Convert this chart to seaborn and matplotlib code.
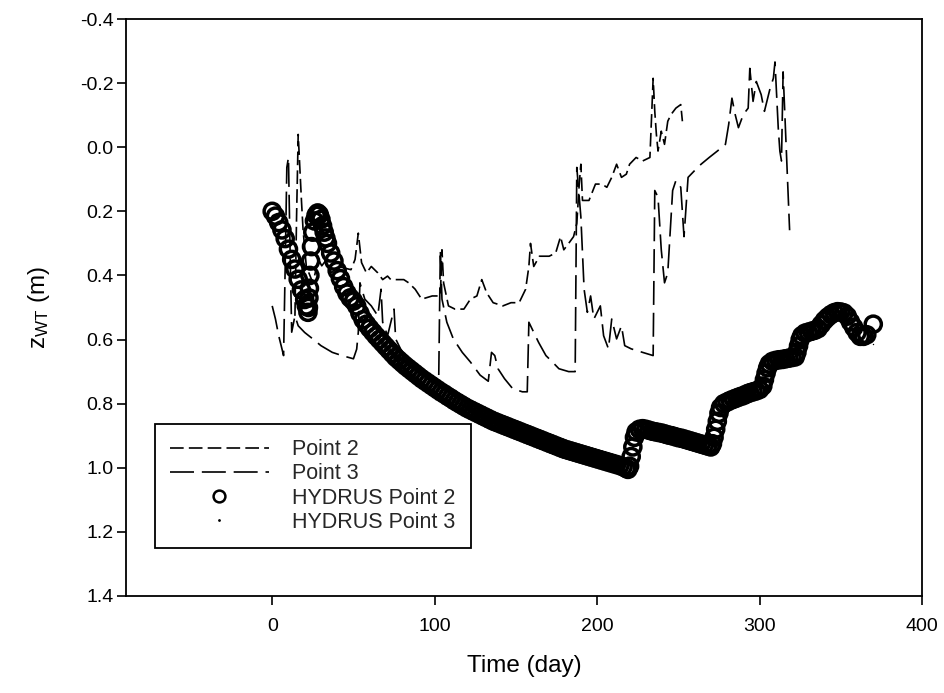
import matplotlib
matplotlib.use("Agg")
import matplotlib.pyplot as plt
import seaborn as sns
import pandas as pd
from matplotlib.lines import Line2D

# ---------------- data ----------------
# Point 2 (observed, short dashes)
p2_t = [14, 15, 16, 17, 18, 19, 21, 25, 28.5, 30.5, 33.5, 36.5, 40.5, 48.5, 51, 53, 55, 58, 61, 65,
        68, 71, 73, 77, 81, 84, 88, 92, 98.5, 103.5, 104.5, 105.5, 108.5, 112.5, 118, 122, 126, 129,
        132, 136, 142, 147, 152, 156, 158, 159, 161, 164.5, 170.5, 174.5, 177.5, 179.5, 182.5, 185.5,
        187.5, 189, 190, 191, 195, 199, 203, 206, 209, 212, 215, 218, 220, 224, 228, 232.5, 234.5,
        235.5, 236.5, 237.5, 239.5, 241.5, 243.5, 245.5, 248.5, 251.5, 252.5]
p2_z = [0.526, 0.217, -0.04, 0.063, 0.166, 0.258, 0.372, 0.423, 0.35, 0.37, 0.35, 0.392, 0.372, 0.382,
        0.35, 0.268, 0.36, 0.392, 0.372, 0.392, 0.413, 0.402, 0.413, 0.413, 0.413, 0.423, 0.443, 0.474,
        0.464, 0.464, 0.32, 0.423, 0.495, 0.505, 0.505, 0.474, 0.464, 0.413, 0.454, 0.485, 0.495, 0.485,
        0.485, 0.443, 0.372, 0.30, 0.372, 0.34, 0.34, 0.33, 0.279, 0.32, 0.30, 0.279, 0.238, 0.115,
        0.053, 0.166, 0.166, 0.115, 0.115, 0.125, 0.094, 0.053, 0.094, 0.084, 0.053, 0.032, 0.043,
        0.032, -0.215, -0.112, -0.04, 0.012, -0.05, -0.009, -0.081, -0.102, -0.122, -0.133, -0.081]

# Point 3 (observed, long dashes)
p3_t = [0, 2, 4, 6, 7, 8, 9, 10, 11, 12, 14, 16, 20, 25, 30, 37, 43, 50, 52, 53, 54, 57, 61, 65, 67,
        68, 71, 75, 76, 79, 83, 89, 96, 102.5, 103.5, 104.5, 107.5, 111.5, 117, 122, 128, 133, 135,
        137, 139, 143, 148, 154, 157, 158, 160, 164, 168.5, 172.5, 176.5, 182.5, 186.5, 187.5, 190,
        192, 194, 196, 198, 202, 204, 207, 209, 212, 215, 217, 221, 228, 234.5, 235.5, 237.5, 239.5,
        241.5, 243.5, 246.5, 248.5, 251.5, 253.5, 256, 260, 264, 269, 274, 279, 281, 283, 285, 287,
        290, 293, 294, 296, 298, 301, 303, 306.5, 308.5, 309.5, 310.5, 311.5, 312.5, 313.5, 314.5,
        316.5, 318.5]
p3_z = [0.495, 0.536, 0.588, 0.629, 0.65, 0.37, 0.063, 0.032, 0.32, 0.577, 0.526, 0.557, 0.578, 0.598,
        0.619, 0.64, 0.65, 0.66, 0.63, 0.577, 0.423, 0.474, 0.495, 0.526, 0.443, 0.546, 0.588, 0.505,
        0.598, 0.629, 0.66, 0.691, 0.711, 0.722, 0.32, 0.474, 0.546, 0.598, 0.64, 0.67, 0.711, 0.73,
        0.64, 0.65, 0.691, 0.722, 0.753, 0.763, 0.763, 0.546, 0.567, 0.609, 0.65, 0.67, 0.691, 0.70,
        0.70, 0.063, 0.217, 0.443, 0.515, 0.464, 0.536, 0.495, 0.588, 0.629, 0.536, 0.598, 0.557,
        0.619, 0.629, 0.64, 0.65, 0.135, 0.156, 0.32, 0.423, 0.392, 0.135, 0.104, 0.125, 0.279, 0.094,
        0.073, 0.053, 0.032, 0.012, -0.009, -0.071, -0.153, -0.102, -0.061, -0.102, -0.122, -0.246,
        -0.143, -0.205, -0.164, -0.112, -0.184, -0.215, -0.266, -0.164, -0.061, 0.012, 0.043, -0.235,
        0.012, 0.259]

# HYDRUS Point 2 (simulated, open circles)
h2_t = [0, 2, 4, 6, 8, 10, 12, 14, 16, 18, 20, 21, 22, 22.3, 22.6, 22.9, 23.2, 23.6, 24.2, 25, 26,
        27, 28, 29, 30, 31, 32, 33, 34, 36, 38, 40, 42, 44, 46, 48, 50, 52, 54, 56, 58, 60, 62, 64,
        66, 68, 70, 72, 74, 76, 78, 80, 82, 84, 86, 88, 90, 92, 94, 96, 98, 100, 102, 104, 106, 108,
        110, 112, 114, 116, 118, 120, 122, 124, 126, 128, 130, 132, 134, 136, 138, 140, 142, 144,
        146, 148, 150, 152, 154, 156, 158, 160, 162, 164, 166, 168, 170, 172, 174, 176, 178, 180,
        182, 184, 186, 188, 190, 192, 194, 196, 198, 200, 202, 204, 206, 208, 210, 212, 214, 216,
        218, 219, 220, 221, 222, 223, 224, 226, 228, 230, 232, 234, 236, 238, 240, 242, 244, 246,
        248, 250, 252, 254, 256, 258, 260, 262, 264, 266, 268, 270, 271, 272, 273, 274, 275, 276,
        278, 280, 282, 284, 286, 288, 290, 292, 294, 296, 298, 300, 302, 303, 304, 305, 306, 308,
        310, 312, 314, 316, 318, 320, 322, 323, 324, 325, 326, 328, 330, 332, 334, 336, 338, 340,
        342, 344, 346, 348, 350, 352, 354, 356, 358, 360, 362, 364, 366, 370]
h2_z = [0.200, 0.215, 0.235, 0.258, 0.285, 0.318, 0.350, 0.380, 0.412, 0.445, 0.475, 0.495, 0.515,
        0.500, 0.470, 0.440, 0.400, 0.355, 0.310, 0.265, 0.230, 0.212, 0.205, 0.210, 0.225, 0.245,
        0.265, 0.283, 0.300, 0.330, 0.355, 0.385, 0.410, 0.435, 0.455, 0.470, 0.480, 0.495, 0.518,
        0.538, 0.552, 0.565, 0.577, 0.589, 0.600, 0.611, 0.622, 0.633, 0.644, 0.655, 0.664, 0.673,
        0.682, 0.690, 0.698, 0.706, 0.714, 0.722, 0.729, 0.736, 0.743, 0.750, 0.757, 0.764, 0.770,
        0.777, 0.783, 0.790, 0.796, 0.802, 0.808, 0.814, 0.819, 0.824, 0.829, 0.834, 0.839, 0.844,
        0.849, 0.854, 0.858, 0.862, 0.866, 0.870, 0.874, 0.878, 0.882, 0.886, 0.890, 0.894, 0.898,
        0.902, 0.906, 0.910, 0.914, 0.918, 0.922, 0.926, 0.930, 0.934, 0.938, 0.942, 0.945, 0.948,
        0.951, 0.954, 0.957, 0.960, 0.963, 0.966, 0.969, 0.972, 0.975, 0.978, 0.981, 0.984, 0.987,
        0.990, 0.993, 0.997, 1.002, 1.005, 0.995, 0.965, 0.935, 0.905, 0.888, 0.880, 0.878, 0.880,
        0.883, 0.886, 0.888, 0.890, 0.892, 0.895, 0.898, 0.900, 0.903, 0.906, 0.908, 0.911, 0.914,
        0.917, 0.920, 0.923, 0.926, 0.929, 0.932, 0.935, 0.925, 0.905, 0.880, 0.855, 0.830, 0.812,
        0.800, 0.795, 0.790, 0.786, 0.782, 0.778, 0.775, 0.770, 0.766, 0.763, 0.760, 0.756, 0.745,
        0.725, 0.705, 0.688, 0.676, 0.668, 0.665, 0.663, 0.662, 0.660, 0.658, 0.656, 0.654, 0.640,
        0.620, 0.600, 0.588, 0.580, 0.577, 0.574, 0.571, 0.566, 0.553, 0.540, 0.530, 0.522, 0.516,
        0.513, 0.514, 0.517, 0.527, 0.545, 0.562, 0.578, 0.590, 0.590, 0.585, 0.552]

# HYDRUS Point 3 (simulated, tiny dots)
h3_t = [0, 10, 20, 22, 26, 30, 40, 50, 60, 70, 80, 90, 100, 120, 140, 160, 180, 200, 218, 224, 240,
        260, 270, 276, 290, 300, 306, 320, 326, 336, 346, 354, 362, 366, 370]
h3_z = [0.21, 0.33, 0.48, 0.52, 0.24, 0.23, 0.39, 0.49, 0.57, 0.625, 0.675, 0.715, 0.752, 0.815,
        0.864, 0.903, 0.943, 0.973, 1.0, 0.89, 0.894, 0.922, 0.936, 0.815, 0.778, 0.758, 0.678,
        0.658, 0.59, 0.568, 0.518, 0.53, 0.60, 0.61, 0.615]

series_labels = ["Point 2", "Point 3", "HYDRUS Point 2", "HYDRUS Point 3"]
x_ticks = [0, 100, 200, 300, 400]
y_ticks = [-0.4, -0.2, 0.0, 0.2, 0.4, 0.6, 0.8, 1.0, 1.2, 1.4]

# ---------------- plotting ----------------
sns.set_theme(style="ticks")
plt.rcParams["font.family"] = ["Liberation Sans", "DejaVu Sans"]
plt.rcParams["axes.unicode_minus"] = False

fig = plt.figure(figsize=(9.44, 6.93), dpi=100)
ax = fig.add_axes([126 / 944, 1 - 596 / 693, (922 - 126) / 944, (596 - 19) / 693])

short_dash = (0, (8.2, 3.1))
long_dash = (0, (14.4, 4.7))

sns.lineplot(x=p2_t, y=p2_z, ax=ax, color="black", lw=1.2, linestyle=short_dash,
             sort=False, estimator=None, zorder=2)
sns.lineplot(x=p3_t, y=p3_z, ax=ax, color="black", lw=1.2, linestyle=long_dash,
             sort=False, estimator=None, zorder=2)
sns.scatterplot(x=h2_t, y=h2_z, ax=ax, marker="o", s=135, facecolor="none",
                edgecolor="black", linewidth=2.5, zorder=3)
sns.scatterplot(x=h3_t, y=h3_z, ax=ax, marker=".", s=4, color="black",
                edgecolor="black", linewidth=0, zorder=4)

ax.set_xlim(-90, 400)
ax.set_ylim(1.4, -0.4)
ax.set_xticks(x_ticks)
ax.set_yticks(y_ticks)
ax.set_yticklabels([f"{v:.1f}" for v in y_ticks])
ax.tick_params(direction="out", length=6.5, width=1.2, colors="black", labelsize=14)
ax.tick_params(axis="y", pad=2.5)
ax.tick_params(axis="x", pad=9)
for sp in ax.spines.values():
    sp.set_linewidth(1.3)
    sp.set_color("black")
ax.grid(False)

ax.set_xlabel("Time (day)", fontsize=17.5, color="black", labelpad=15)
ax.set_ylabel(r"$\mathregular{z_{WT}}$ (m)", fontsize=17.5, color="black", labelpad=20)

handles = [
    Line2D([], [], color="black", lw=1.2, linestyle=short_dash),
    Line2D([], [], color="black", lw=1.2, linestyle=long_dash),
    Line2D([], [], linestyle="none", marker="o", ms=8.5, mfc="white", mec="black", mew=1.8),
    Line2D([], [], linestyle="none", marker=".", ms=2, color="black"),
]
leg = ax.legend(handles, series_labels, loc="upper left", bbox_to_anchor=(0.036, 0.298),
                borderaxespad=0, fontsize=15.5, frameon=True, fancybox=False,
                edgecolor="black", framealpha=1, handlelength=4.6, handletextpad=1.1,
                labelspacing=0.15, borderpad=0.7)
leg.get_frame().set_linewidth(1.3)

fig.savefig("out.png", dpi=100)
